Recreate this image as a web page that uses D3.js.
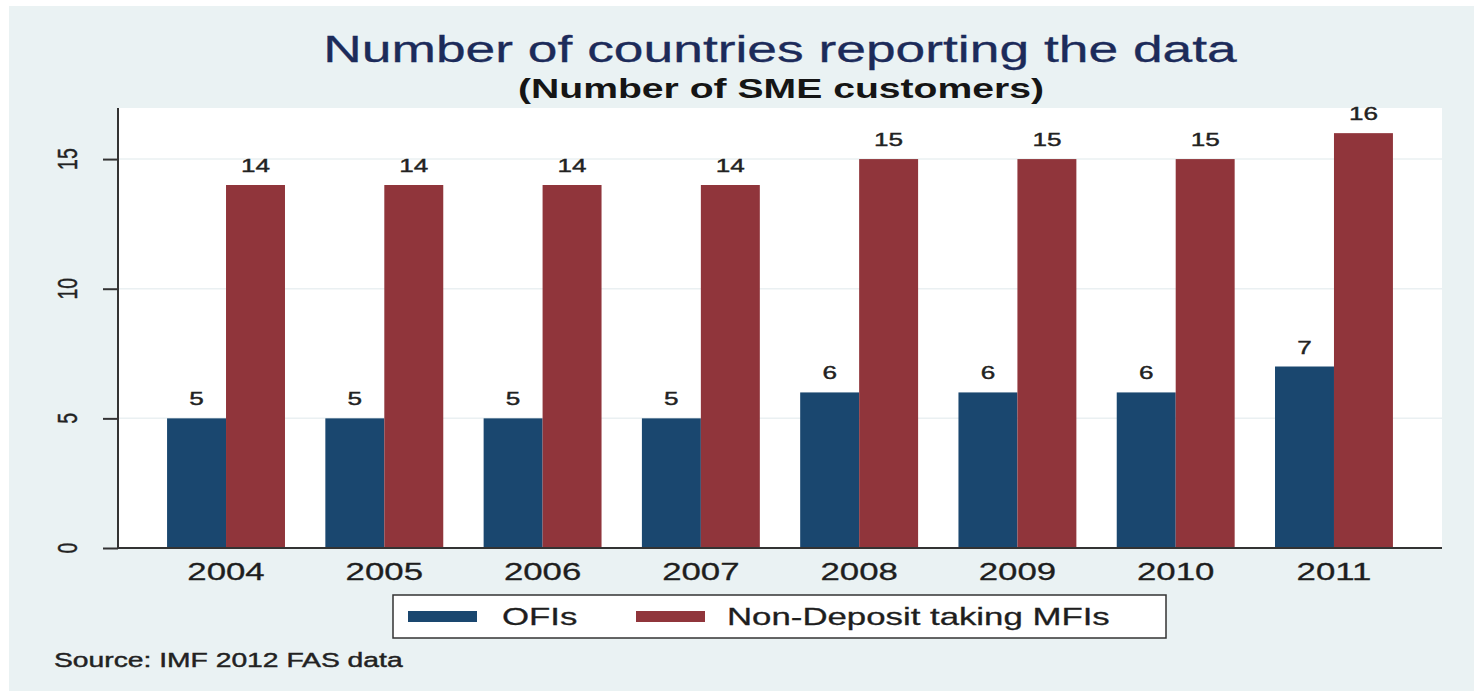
<!DOCTYPE html>
<html>
<head>
<meta charset="utf-8">
<script src="https://cdn.jsdelivr.net/npm/d3@7/dist/d3.min.js"></script>
<style>
  html, body { margin: 0; padding: 0; background: #ffffff; }
  svg { display: block; font-family: "Liberation Sans", Arial, sans-serif; }
</style>
</head>
<body>
<svg id="chart" width="1474" height="693"></svg>
<script>
// ---- data ----
const years = ["2004", "2005", "2006", "2007", "2008", "2009", "2010", "2011"];
const seriesNames = ["OFIs", "Non-Deposit taking MFIs"];
const ofis = [5, 5, 5, 5, 6, 6, 6, 7];
const nonDepositMFIs = [14, 14, 14, 14, 15, 15, 15, 16];
const yTicks = [0, 5, 10, 15];
const titleText = "Number of countries reporting the data";
const subtitleText = "(Number of SME customers)";
const noteText = "Source: IMF 2012 FAS data";

// ---- layout ----
const W = 1474, H = 693;
const SX = 1.45; // horizontal stretch of the original image
const plot = { left: 118, right: 1442, top: 108, bottom: 548 };
const colors = ["#1a476f", "#90353b"];
const bg = "#eaf2f3";

const svg = d3.select("#chart");

svg.append("rect").attr("x", 9).attr("y", 6).attr("width", W - 9).attr("height", 685).attr("fill", bg);
svg.append("rect").attr("x", plot.left).attr("y", plot.top)
  .attr("width", plot.right - plot.left).attr("height", plot.bottom - plot.top).attr("fill", "#ffffff");

const x0 = d3.scaleBand().domain(years).range([plot.left, plot.right])
  .paddingInner(0.255).paddingOuter(0.31);
const x1 = d3.scaleBand().domain(seriesNames).range([0, x0.bandwidth()]);
const y = d3.scaleLinear().domain([0, 16.97]).range([plot.bottom, plot.top]);

function stretchedText(g, x, yy, txt, opts) {
  const t = g.append("g").attr("transform", `translate(${x},${yy}) scale(${SX},1)` + (opts.rotate ? ` rotate(${opts.rotate})` : ""))
    .append("text")
    .attr("text-anchor", opts.anchor || "middle")
    .attr("font-size", opts.size)
    .attr("font-weight", opts.weight || "normal")
    .attr("fill", opts.fill || "#222")
    .text(txt);
  if (opts.stroke) t.attr("stroke", opts.fill).attr("stroke-width", opts.stroke);
  return t;
}

// gridlines
svg.append("g").selectAll("line").data(yTicks.filter(d => d > 0)).join("line")
  .attr("x1", plot.left).attr("x2", plot.right)
  .attr("y1", d => y(d)).attr("y2", d => y(d))
  .attr("stroke", "#eaf0f2").attr("stroke-width", 1.5);

// bars
const data = years.map((yr, i) => ({ year: yr, vals: [ofis[i], nonDepositMFIs[i]] }));
const groups = svg.append("g").selectAll("g").data(data).join("g")
  .attr("transform", d => `translate(${x0(d.year)},0)`);
groups.selectAll("rect").data(d => d.vals.map((v, j) => ({ v, s: seriesNames[j], j }))).join("rect")
  .attr("x", d => x1(d.s)).attr("width", x1.bandwidth())
  .attr("y", d => y(d.v)).attr("height", d => y(0) - y(d.v))
  .attr("fill", d => colors[d.j]);

// value labels
const lab = svg.append("g");
data.forEach(d => {
  d.vals.forEach((v, j) => {
    stretchedText(lab, x0(d.year) + x1(seriesNames[j]) + x1.bandwidth() / 2, y(v) - 13, String(v),
      { size: 18, fill: "#222", stroke: 0.4 });
  });
});

// y axis
const yAxis = d3.axisLeft(y).tickValues(yTicks).tickSize(15).tickFormat("");
const ya = svg.append("g").attr("transform", `translate(${plot.left},0)`).call(yAxis);
ya.select(".domain").remove();
ya.selectAll(".tick line").attr("stroke", "#333").attr("stroke-width", 2);
svg.append("line").attr("x1", plot.left).attr("x2", plot.left).attr("y1", plot.top).attr("y2", plot.bottom)
  .attr("stroke", "#333").attr("stroke-width", 2);
const yl = svg.append("g");
yTicks.forEach(t => {
  stretchedText(yl, 77, y(t), String(t), { size: 19.5, rotate: -90, fill: "#222", stroke: 0.3 });
});

// x axis
const xAxis = d3.axisBottom(x0).tickSize(0).tickFormat("");
const xa = svg.append("g").attr("transform", `translate(0,${plot.bottom})`).call(xAxis);
xa.select(".domain").remove();
svg.append("line").attr("x1", plot.left - 1).attr("x2", plot.right).attr("y1", plot.bottom).attr("y2", plot.bottom)
  .attr("stroke", "#333").attr("stroke-width", 2);
const xl = svg.append("g");
years.forEach(yr => {
  stretchedText(xl, x0(yr) + x0.bandwidth() / 2, 580, yr, { size: 24, fill: "#1e1e1e", stroke: 0.3 });
});

// titles
stretchedText(svg, 780, 62, titleText, { size: 36.8, fill: "#1c2b5a", stroke: 0.3 });
stretchedText(svg, 781, 98, subtitleText, { size: 27, weight: "bold", fill: "#151515" });

// legend
const lg = svg.append("g");
lg.append("rect").attr("x", 393).attr("y", 595).attr("width", 773).attr("height", 43)
  .attr("fill", "#ffffff").attr("stroke", "#333").attr("stroke-width", 1.5);
const legendItems = [
  { name: seriesNames[0], color: colors[0], sx: 408, tx: 502 },
  { name: seriesNames[1], color: colors[1], sx: 636, tx: 727 }
];
legendItems.forEach(it => {
  lg.append("rect").attr("x", it.sx).attr("y", 611).attr("width", 69).attr("height", 11).attr("fill", it.color);
  stretchedText(lg, it.tx, 625, it.name, { size: 24, anchor: "start", fill: "#1e1e1e", stroke: 0.3 });
});

// note
stretchedText(svg, 54, 667, noteText, { size: 19.5, anchor: "start", fill: "#222", stroke: 0.4 });
</script>
</body>
</html>
